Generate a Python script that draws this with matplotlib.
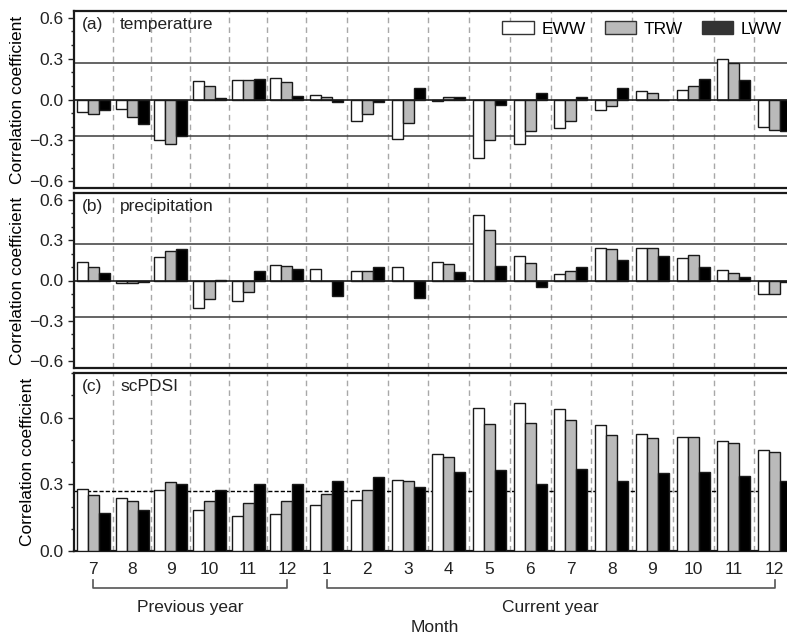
import numpy as np
import matplotlib
matplotlib.use("Agg")
import matplotlib.pyplot as plt
from matplotlib.patches import Patch
from matplotlib.ticker import MultipleLocator, FuncFormatter
from matplotlib.transforms import blended_transform_factory

plt.rcParams["font.family"] = ["Liberation Sans", "DejaVu Sans"]
plt.rcParams["font.size"] = 11

MONTHS = ["7", "8", "9", "10", "11", "12",
          "1", "2", "3", "4", "5", "6", "7", "8", "9", "10", "11", "12"]
SERIES = ["EWW", "TRW", "LWW"]
SIG_LEVEL = 0.27

# correlation coefficients, previous Jul .. current Dec
temp_eww = [-0.09, -0.07, -0.30, 0.135, 0.14, 0.16, 0.035, -0.155, -0.29, -0.01,
            -0.43, -0.33, -0.21, -0.075, 0.06, 0.07, 0.295, -0.20]
temp_trw = [-0.11, -0.13, -0.33, 0.10, 0.145, 0.125, 0.015, -0.11, -0.17, 0.02,
            -0.30, -0.23, -0.155, -0.045, 0.05, 0.10, 0.27, -0.225]
temp_lww = [-0.08, -0.18, -0.27, 0.01, 0.15, 0.025, -0.02, -0.015, 0.085, 0.015,
            -0.04, 0.05, 0.02, 0.085, 0.0, 0.15, 0.14, -0.23]

prec_eww = [0.134, -0.015, 0.174, -0.203, -0.154, 0.114, 0.087, 0.07, 0.097, 0.141,
            0.489, 0.179, 0.047, 0.241, 0.238, 0.166, 0.077, -0.102]
prec_trw = [0.104, -0.02, 0.218, -0.141, -0.089, 0.107, 0.0, 0.074, 0.0, 0.119,
            0.377, 0.127, 0.07, 0.231, 0.243, 0.186, 0.057, -0.097]
prec_lww = [0.055, -0.008, 0.233, 0.007, 0.07, 0.087, -0.117, 0.104, -0.13, 0.062,
            0.109, -0.05, 0.102, 0.156, 0.184, 0.097, 0.025, -0.01]

pdsi_eww = [0.278, 0.237, 0.275, 0.184, 0.157, 0.166, 0.207, 0.231, 0.319, 0.434,
            0.644, 0.663, 0.639, 0.565, 0.527, 0.514, 0.494, 0.452]
pdsi_trw = [0.252, 0.225, 0.31, 0.225, 0.216, 0.225, 0.255, 0.275, 0.316, 0.422,
            0.573, 0.576, 0.588, 0.521, 0.509, 0.511, 0.487, 0.444]
pdsi_lww = [0.169, 0.183, 0.30, 0.274, 0.302, 0.302, 0.313, 0.334, 0.289, 0.354,
            0.366, 0.30, 0.369, 0.314, 0.349, 0.357, 0.339, 0.314]

panels = [
    ("(a)", "temperature", [temp_eww, temp_trw, temp_lww]),
    ("(b)", "precipitation", [prec_eww, prec_trw, prec_lww]),
    ("(c)", "scPDSI", [pdsi_eww, pdsi_trw, pdsi_lww]),
]

bar_colors = ["white", "#bababa", "black"]
legend_colors = ["white", "#bababa", "#333333"]
edge_color = "#1a1a1a"
text_color = "#222222"

# previous-year months sit in slightly narrower slots
widths = np.array([0.95] * 6 + [1.0] * 12)
edges = np.concatenate([[0], np.cumsum(widths)])
centers = edges[:-1] + widths / 2
bar_w = 0.27
offsets = [-bar_w, 0, bar_w]


def fmt(v, pos):
    s = f"{v:.1f}"
    if s == "-0.0":
        s = "0.0"
    return s.replace("-", "\u2212")


fig = plt.figure(figsize=(7.87, 6.36), dpi=100)
ax_left = 74 / 787
ax_width = (795 - 74) / 787
boxes = [(11, 188), (193, 368), (373, 551)]
axes = [fig.add_axes([ax_left, 1 - b / 636, ax_width, (b - t) / 636]) for t, b in boxes]

for i, (ax, (tag, name, series)) in enumerate(zip(axes, panels)):
    for e in edges[1:-1]:
        ax.axvline(e, color="#a8a8a8", lw=1.0, ls=(0, (4, 3)), zorder=1)

    if i < 2:
        ax.axhline(SIG_LEVEL, color="#3a3a3a", lw=1.1, zorder=1)
        ax.axhline(-SIG_LEVEL, color="#3a3a3a", lw=1.1, zorder=1)
        ax.set_ylim(-0.65, 0.65)
        ax.set_yticks([-0.6, -0.3, 0.0, 0.3, 0.6])
    else:
        ax.axhline(SIG_LEVEL, color="black", lw=1.0, ls=(0, (3, 1.5)), zorder=1)
        ax.set_ylim(0, 0.8)
        ax.set_yticks([0.0, 0.3, 0.6])

    for k, vals in enumerate(series):
        ax.bar(centers + offsets[k], vals, width=bar_w, color=bar_colors[k],
               edgecolor=edge_color, linewidth=1.0, zorder=3)

    if i < 2:
        ax.axhline(0, color="#1a1a1a", lw=1.2, zorder=4)

    ax.set_xlim(edges[0], edges[-1])
    ax.yaxis.set_major_formatter(FuncFormatter(fmt))
    ax.yaxis.set_minor_locator(MultipleLocator(0.1))
    ax.tick_params(axis="y", which="major", direction="out", length=4, width=1,
                   labelsize=12.5, colors=text_color)
    ax.tick_params(axis="y", which="minor", direction="out", length=2.5, width=1,
                   colors=text_color)
    ax.tick_params(axis="x", length=0)
    for sp in ax.spines.values():
        sp.set_linewidth(1.6)
        sp.set_color("#1a1a1a")
    ax.set_ylabel("Correlation coefficient", fontsize=12.5, labelpad=3)

    ax.text(0.011, 0.925, tag, transform=ax.transAxes, fontsize=12.5,
            va="center", ha="left", color=text_color)
    ax.text(0.064, 0.925, name, transform=ax.transAxes, fontsize=12.5,
            va="center", ha="left", color=text_color)

    if i == 0:
        handles = [Patch(facecolor=c, edgecolor="#333333", lw=1.0, label=s)
                   for c, s in zip(legend_colors, SERIES)]
        ax.legend(handles=handles, loc="center left", bbox_to_anchor=(0.594, 0.898),
                  ncol=3, frameon=False, fontsize=12.5, borderpad=0,
                  handlelength=1.8, handleheight=0.8, handletextpad=0.45,
                  columnspacing=1.1, borderaxespad=0)

for ax in axes[:2]:
    ax.set_xticks(centers)
    ax.set_xticklabels([])

ax_c = axes[2]
ax_c.set_xticks(centers)
ax_c.set_xticklabels(MONTHS, fontsize=12.5, color=text_color)
ax_c.tick_params(axis="x", pad=8)
ax_c.set_xlabel("Month", fontsize=12.5, labelpad=31, color=text_color)

# year brackets under the month labels
trans = blended_transform_factory(ax_c.transData, ax_c.transAxes)
for lo, hi, label in [(0, 5, "Previous year"), (6, 17, "Current year")]:
    x0, x1 = centers[lo], centers[hi]
    ax_c.plot([x0, x0, x1, x1], [-0.165, -0.208, -0.208, -0.165], transform=trans,
              color="#555555", lw=1.2, clip_on=False)
    ax_c.text((x0 + x1) / 2, -0.315, label, transform=trans, ha="center",
              va="center", fontsize=12.5, color=text_color)

fig.savefig("out.png", dpi=100)
